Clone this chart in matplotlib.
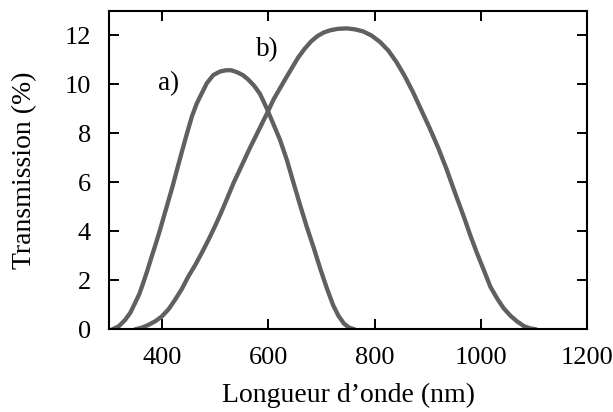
import matplotlib.pyplot as plt

# Courbe a)
lam_a = [306, 318, 330, 340, 349, 357, 364, 372, 380, 388, 396, 403, 411, 419,
         427, 437, 446, 456, 465, 474, 484, 496, 509, 520, 530, 541, 552, 562,
         573, 584, 597, 610, 622, 635, 647, 660, 672, 685, 698, 710, 722, 732,
         742, 752, 762]
trans_a = [0, 0.12, 0.38, 0.68, 1.08, 1.45, 1.88, 2.4, 2.96, 3.5, 4.07, 4.6, 5.2,
           5.8, 6.45, 7.25, 7.95, 8.7, 9.22, 9.62, 10.05, 10.38, 10.53, 10.58,
           10.58, 10.5, 10.38, 10.2, 9.95, 9.62, 9.02, 8.35, 7.73, 6.9, 6.0,
           5.05, 4.2, 3.35, 2.45, 1.68, 0.98, 0.55, 0.24, 0.07, 0]

# Courbe b)
lam_b = [349, 362, 374, 387, 399, 412, 424, 437, 449, 462, 474, 487, 499, 510,
         521, 534, 550, 565, 581, 597, 610, 622, 634, 645, 656, 668, 680, 692,
         704, 716, 730, 748, 763, 778, 794, 810, 826, 841, 857, 872, 888, 904,
         920, 935, 951, 968, 980, 993, 1006, 1018, 1031, 1043, 1056, 1069, 1082,
         1093, 1104]
trans_b = [0, 0.07, 0.18, 0.33, 0.52, 0.82, 1.2, 1.65, 2.15, 2.62, 3.1, 3.65, 4.19,
           4.72, 5.28, 5.96, 6.7, 7.4, 8.1, 8.8, 9.4, 9.85, 10.3, 10.7, 11.1,
           11.45, 11.75, 11.97, 12.12, 12.21, 12.27, 12.29, 12.25, 12.17, 12.0,
           11.74, 11.38, 10.92, 10.33, 9.7, 8.95, 8.2, 7.4, 6.57, 5.6, 4.6, 3.85,
           3.1, 2.4, 1.74, 1.25, 0.86, 0.55, 0.31, 0.12, 0.04, 0]

xticks = [400, 600, 800, 1000, 1200]
yticks = [0, 2, 4, 6, 8, 10, 12]

plt.rcParams['font.family'] = ['Liberation Serif', 'DejaVu Serif']

fig = plt.figure(figsize=(6.13, 4.12), dpi=100)
ax = fig.add_axes([0.178, 0.2007, 0.7796, 0.7726])

line_col = '#606060'
ax.plot(lam_a, trans_a, color=line_col, linewidth=3.1, solid_capstyle='round')
ax.plot(lam_b, trans_b, color=line_col, linewidth=3.1, solid_capstyle='round')

ax.text(412, 10.05, 'a)', fontsize=19.5, ha='center', va='center')
ax.text(598, 11.42, 'b)', fontsize=19.5, ha='center', va='center')

ax.set_xlim(300, 1200)
ax.set_ylim(0, 13)
ax.set_xticks(xticks)
ax.set_yticks(yticks)
ax.tick_params(direction='in', length=7.5, width=1.4, labelsize=19, pad=13,
               top=True, right=True)
for s in ax.spines.values():
    s.set_linewidth(1.5)

ax.set_xlabel('Longueur d\u2019onde (nm)', fontsize=20, labelpad=10)
ax.set_ylabel('Transmission (%)', fontsize=20, labelpad=20)

fig.savefig('out.png', dpi=100)
